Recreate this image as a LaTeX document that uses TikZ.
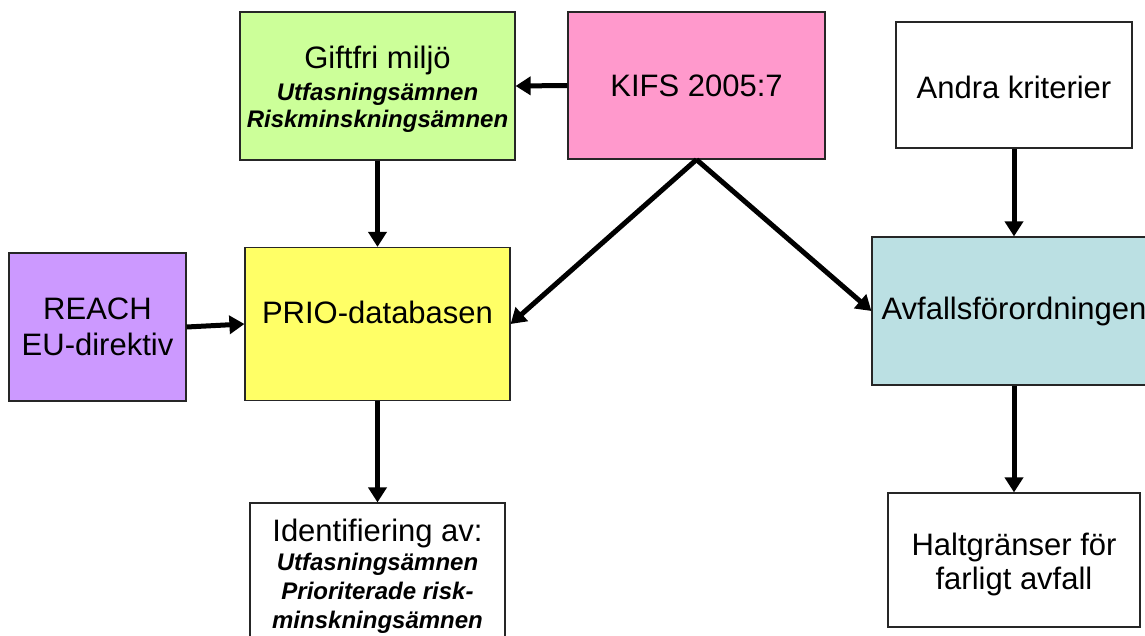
\documentclass[tikz,border=0pt]{standalone}
\usepackage{fontspec}
\setmainfont{Liberation Sans}
\usetikzlibrary{arrows.meta}

\definecolor{giftgreen}{RGB}{204,255,153}
\definecolor{kifspink}{RGB}{255,153,204}
\definecolor{reachlilac}{RGB}{204,153,255}
\definecolor{prioyellow}{RGB}{255,255,102}
\definecolor{avfallblue}{RGB}{187,224,227}

\newcommand{\subst}[1]{{\fontsize{24}{29}\selectfont\bfseries\itshape #1}}

\tikzset{
  box/.style={draw=black!85, line width=1.2pt, inner sep=0pt, align=center,
    font=\fontsize{31}{36}\selectfont},
  arr/.style={line width=5pt, -{Triangle[length=15pt,width=18pt]}},
}

\begin{document}
\begin{tikzpicture}[x=1pt, y=-1pt]
  \useasboundingbox (0,0) rectangle (1145,635);

  \node[box, fill=giftgreen, minimum width=275pt, minimum height=148pt, text height=87pt] (giftfri) at (377.5,86)
    {Giftfri miljö\\[-4pt] \subst{Utfasningsämnen}\\[-9pt] \subst{Riskminskningsämnen}};
  \node[box, fill=kifspink, minimum width=257pt, minimum height=147pt] (kifs) at (696.5,85.5)
    {KIFS 2005:7};
  \node[box, fill=white, minimum width=236pt, minimum height=126pt, text height=28pt] (andra) at (1014,85)
    {Andra kriterier};

  \node[box, fill=reachlilac, minimum width=177pt, minimum height=148pt] (reach) at (97.5,327)
    {REACH\\EU-direktiv};
  \node[box, fill=prioyellow, minimum width=265pt, minimum height=153pt, text depth=24pt] (prio) at (377.5,324)
    {PRIO-databasen};
  \node[box, fill=avfallblue, minimum width=284pt, minimum height=148pt] (avfall) at (1014,311)
    {Avfallsförordningen};

  \node[box, fill=white, minimum width=255pt, minimum height=147pt] (ident) at (377.5,576.5)
    {Identifiering av:\\[-7pt] \subst{Utfasningsämnen}\\[-7pt] \subst{Prioriterade risk-}\\[-7pt]
     \subst{minskningsämnen}};
  \node[box, fill=white, minimum width=252pt, minimum height=134pt, text height=64.5pt] (halt) at (1014,560)
    {Haltgränser för\\[-2pt]farligt avfall};

  \draw[arr] (kifs.west) -- (giftfri.east);
  \draw[arr] (giftfri.south) -- (prio.north);
  \draw[arr] (reach.east) -- (prio.west);
  \draw[arr] (kifs.south) -- (prio.east);
  \draw[arr] (kifs.south) -- (avfall.west);
  \draw[arr] (andra.south) -- (avfall.north);
  \draw[arr] (prio.south) -- (ident.north);
  \draw[arr] (avfall.south) -- (halt.north);
\end{tikzpicture}
\end{document}
